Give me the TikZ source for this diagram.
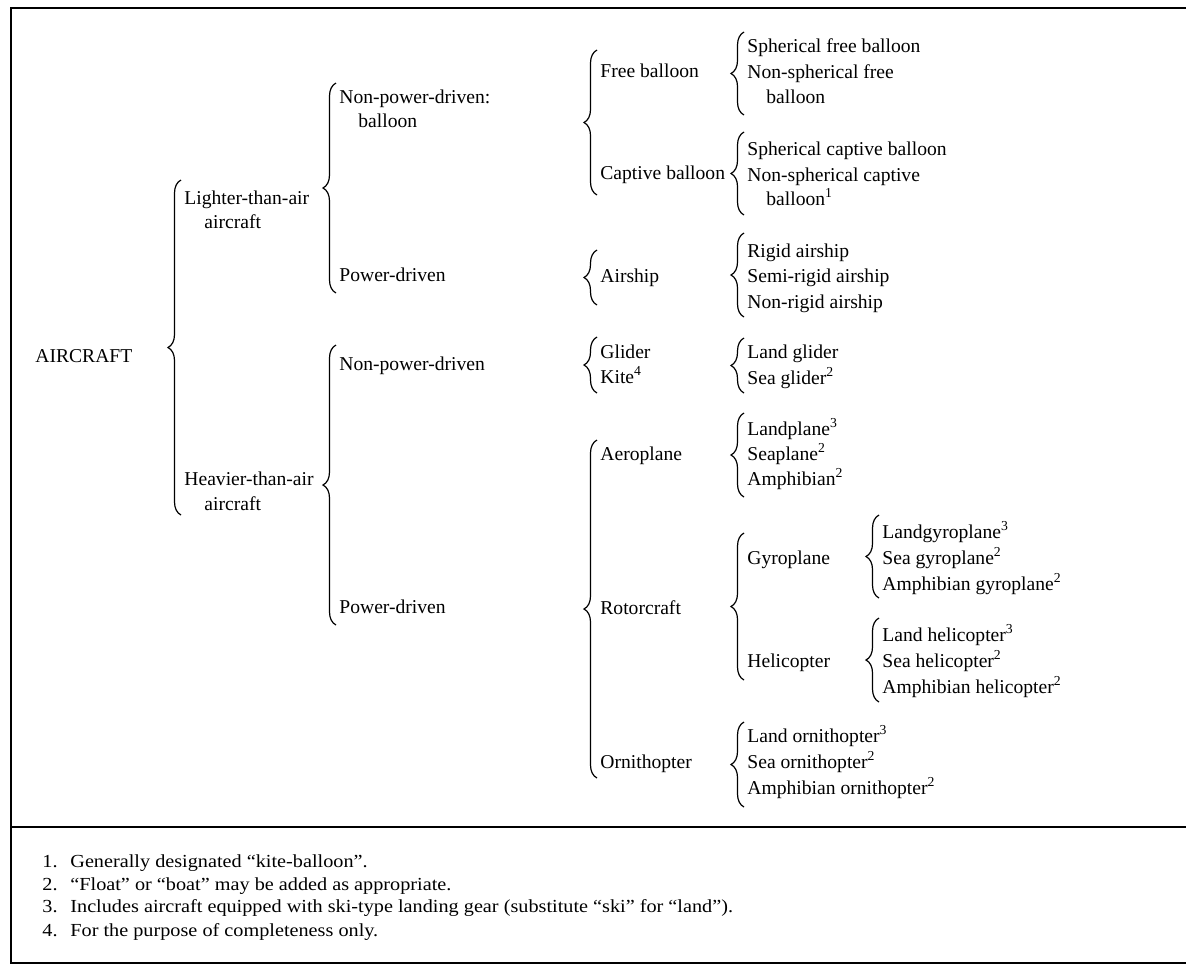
\documentclass[tikz,border=0pt]{standalone}
\usepackage{fontspec}
\setmainfont{Liberation Serif}
\newfontfamily\notefont[FakeStretch=1.1]{Liberation Serif}
\usepackage{tikz}
\usetikzlibrary{calc, decorations.pathreplacing}

% brace in front of a group: first node, last node, pad above, pad below
\newcommand{\twig}[4]{%
	\draw[curly] ($(#1.base west |- #2.base)+(-3,#4-5)$) -- ($(#1.base west)+(-3,-#3-5)$);}

\begin{document}
\begin{tikzpicture}[x=0.5pt, y=-0.5pt,
		lbl/.style = {anchor=base west, inner sep=0pt, font=\fontsize{9.8}{12}\selectfont},
		note/.style = {anchor=base west, inner sep=0pt, font=\notefont\fontsize{9.2}{11}\selectfont},
		curly/.style = {decorate, decoration={brace, amplitude=6.5pt}, line width=0.6pt},
		frame/.style = {line width=1.3pt}]
	\useasboundingbox (0,0) rectangle (1186,966);

	% frame and footnote box
	\draw[frame] (1186,8) -- (11,8) -- (11,963) -- (1186,963);
	\draw[frame] (11,827) -- (1186,827);

	% first levels
	\node[lbl] (air) at (35,362) {AIRCRAFT};
	\node[lbl] (lta) at (184,204) {Lighter-than-air};
	\node[lbl] (lta2) at (204,228) {aircraft};
	\node[lbl] (hta) at (184,485) {Heavier-than-air};
	\node[lbl] (hta2) at (204,510) {aircraft};

	\node[lbl] (npb) at (339,103) {Non-power-driven:};
	\node[lbl] (npb2) at (358,127) {balloon};
	\node[lbl] (pdl) at (339,281) {Power-driven};
	\node[lbl] (npd) at (339,370) {Non-power-driven};
	\node[lbl] (pdh) at (339,613) {Power-driven};

	\node[lbl] (fb) at (600,77) {Free balloon};
	\node[lbl] (cb) at (600,179) {Captive balloon};
	\node[lbl] (ash) at (600,282) {Airship};
	\node[lbl] (gld) at (600,358) {Glider};
	\node[lbl] (kite) at (600,383) {Kite\textsuperscript{4}};
	\node[lbl] (aero) at (600,460) {Aeroplane};
	\node[lbl] (rotor) at (600,614) {Rotorcraft};
	\node[lbl] (orni) at (600,768) {Ornithopter};

	% kinds
	\node[lbl] (sfb) at (747,52) {Spherical free balloon};
	\node[lbl] (nsf) at (747,78) {Non-spherical free};
	\node[lbl] (nsf2) at (766,103) {balloon};
	\node[lbl] (scb) at (747,155) {Spherical captive balloon};
	\node[lbl] (nsc) at (747,181) {Non-spherical captive};
	\node[lbl] (nsc2) at (766,205) {balloon\textsuperscript{1}};
	\node[lbl] (rig) at (747,257) {Rigid airship};
	\node[lbl] (srig) at (747,282) {Semi-rigid airship};
	\node[lbl] (nrig) at (747,308) {Non-rigid airship};
	\node[lbl] (lgl) at (747,358) {Land glider};
	\node[lbl] (sgl) at (747,384) {Sea glider\textsuperscript{2}};
	\node[lbl] (lpl) at (747,435) {Landplane\textsuperscript{3}};
	\node[lbl] (spl) at (747,460) {Seaplane\textsuperscript{2}};
	\node[lbl] (apl) at (747,485) {Amphibian\textsuperscript{2}};
	\node[lbl] (gyro) at (747,564) {Gyroplane};
	\node[lbl] (heli) at (747,667) {Helicopter};
	\node[lbl] (lor) at (747,742) {Land ornithopter\textsuperscript{3}};
	\node[lbl] (sor) at (747,768) {Sea ornithopter\textsuperscript{2}};
	\node[lbl] (aor) at (747,794) {Amphibian ornithopter\textsuperscript{2}};

	\node[lbl] (lgy) at (882,538) {Landgyroplane\textsuperscript{3}};
	\node[lbl] (sgy) at (882,564) {Sea gyroplane\textsuperscript{2}};
	\node[lbl] (agy) at (882,590) {Amphibian gyroplane\textsuperscript{2}};
	\node[lbl] (lhe) at (882,641) {Land helicopter\textsuperscript{3}};
	\node[lbl] (she) at (882,667) {Sea helicopter\textsuperscript{2}};
	\node[lbl] (ahe) at (882,693) {Amphibian helicopter\textsuperscript{2}};

	% braces
	\twig{lta}{hta2}{19}{10}
	\twig{npb}{pdl}{15}{17}
	\twig{npd}{pdh}{20}{17}
	\twig{fb}{cb}{22}{21}
	\twig{ash}{ash}{27}{28}
	\twig{gld}{kite}{16}{15}
	\twig{aero}{orni}{15}{15}
	\twig{sfb}{nsf2}{15}{17}
	\twig{scb}{nsc2}{18}{15}
	\twig{rig}{nrig}{19}{14}
	\twig{lgl}{sgl}{15}{14}
	\twig{lpl}{apl}{17}{17}
	\twig{gyro}{heli}{26}{18}
	\twig{lor}{aor}{15}{18}
	\twig{lgy}{agy}{18}{13}
	\twig{lhe}{ahe}{18}{14}

	% footnotes
	\node[note] (fn1) at (42,867) {\makebox[14pt][l]{1.}Generally designated “kite-balloon”.};
	\node[note] (fn2) at (42,890) {\makebox[14pt][l]{2.}“Float” or “boat” may be added as appropriate.};
	\node[note] (fn3) at (42,912) {\makebox[14pt][l]{3.}Includes aircraft equipped with ski-type landing gear (substitute “ski” for “land”).};
	\node[note] (fn4) at (42,936) {\makebox[14pt][l]{4.}For the purpose of completeness only.};
\end{tikzpicture}
\end{document}
